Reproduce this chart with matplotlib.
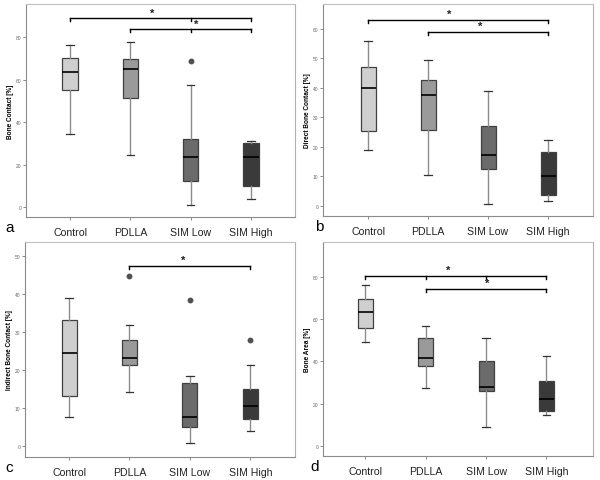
import matplotlib
matplotlib.use('Agg')
import matplotlib.pyplot as plt

plt.rcParams['font.family'] = ['Liberation Sans', 'DejaVu Sans']

groups = ['Control', 'PDLLA', 'SIM Low', 'SIM High']
box_colors = ['#cfcfcf', '#9a9a9a', '#6b6b6b', '#3a3a3a']

# five-number summaries per group: whisker low, Q1, median, Q3, whisker high
a_lo = [34.5, 24.5, 1.0, 4.0]
a_q1 = [55.0, 51.3, 12.5, 9.8]
a_med = [63.7, 65.0, 23.6, 23.5]
a_q3 = [70.1, 70.0, 32.1, 30.4]
a_hi = [76.4, 77.6, 57.4, 31.2]
a_fliers = [[], [], [69.0], []]

b_lo = [18.8, 10.5, 0.5, 1.7]
b_q1 = [25.4, 25.7, 12.6, 3.6]
b_med = [39.9, 37.6, 17.1, 10.0]
b_q3 = [47.2, 42.7, 27.0, 18.3]
b_hi = [55.8, 49.5, 38.9, 22.2]
b_fliers = [[], [], [], []]

c_lo = [7.6, 14.2, 1.0, 4.1]
c_q1 = [13.1, 21.4, 5.0, 7.2]
c_med = [24.6, 23.2, 7.6, 10.5]
c_q3 = [33.2, 27.9, 16.6, 15.1]
c_hi = [39.1, 31.9, 18.6, 21.5]
c_fliers = [[], [44.7], [38.5], [27.9]]

d_lo = [48.9, 27.2, 9.0, 14.5]
d_q1 = [55.9, 37.9, 26.2, 16.6]
d_med = [63.3, 41.5, 28.1, 22.0]
d_q3 = [69.4, 51.1, 40.1, 30.8]
d_hi = [76.2, 56.5, 50.8, 42.6]
d_fliers = [[], [], [], []]

# significance brackets: (start group, end group, y, inner tick groups, star x)
a_sig = [(0, 3, 89.1, [2], 1.36), (1, 3, 83.9, [2], 2.09)]
b_sig = [(0, 3, 63.2, [], 1.35), (1, 3, 59.1, [], 1.87)]
c_sig = [(1, 3, 47.4, [], 1.89)]
d_sig = [(0, 3, 80.3, [1, 2], 1.38), (1, 3, 74.2, [], 2.02)]

W, H = 600, 481


def px_axes(fig, l, r, t, b):
    return fig.add_axes([l / W, 1 - b / H, (r - l) / W, (b - t) / H])


def draw_panel(ax, lo, q1, med, q3, hi, fliers, sig, ylim, xlim, yticks, ylabel, letter, letter_x, tick_len):
    stats = []
    for i in range(len(groups)):
        stats.append(dict(whislo=lo[i], q1=q1[i], med=med[i], q3=q3[i], whishi=hi[i],
                          fliers=fliers[i], label=groups[i]))
    bp = ax.bxp(stats, positions=range(len(groups)), widths=0.25, patch_artist=True,
                showfliers=True,
                boxprops=dict(edgecolor='#404040', linewidth=0.9),
                medianprops=dict(color='black', linewidth=1.2),
                whiskerprops=dict(color='#8c8c8c', linewidth=1.0),
                capprops=dict(color='#333333', linewidth=0.9),
                capwidths=0.12,
                flierprops=dict(marker='o', markersize=3.2, markerfacecolor='#505050',
                                markeredgecolor='#505050'))
    for patch, col in zip(bp['boxes'], box_colors):
        patch.set_facecolor(col)

    for g0, g1, y, inner, sx in sig:
        ax.plot([g0, g1], [y, y], color='black', lw=1.0)
        for g in [g0, g1] + inner:
            ax.plot([g, g], [y, y - tick_len], color='black', lw=1.0)
        ax.text(sx, y + tick_len * 0.2, '*', ha='center', va='bottom', fontsize=8,
                fontweight='bold', color='#222222')

    ax.set_ylim(ylim)
    ax.set_xlim(xlim)
    ax.set_yticks(yticks)
    ax.set_yticklabels([str(v) for v in yticks], fontsize=3.5, color='#666666')
    ax.set_xticks(range(len(groups)))
    ax.set_xticklabels(groups, fontsize=7.6, color='#222222')
    ax.tick_params(axis='y', length=2.5, width=0.6, color='#777777', pad=1)
    ax.tick_params(axis='x', length=2.5, width=0.6, color='#777777', pad=4.5)
    ax.set_ylabel(ylabel, fontsize=4.7, fontweight='bold')
    ax.yaxis.set_label_coords(-0.044, 0.5)
    for s in ax.spines.values():
        s.set_color('#8a8a8a')
        s.set_linewidth(0.8)
    ax.spines['top'].set_color('#c0c0c0')
    ax.spines['right'].set_color('#b0b0b0')
    ax.text(letter_x, -0.047, letter, transform=ax.transAxes, fontsize=11, ha='left', va='center')


fig = plt.figure(figsize=(6.0, 4.81), dpi=100)

ax_a = px_axes(fig, 26, 295, 5, 218)
draw_panel(ax_a, a_lo, a_q1, a_med, a_q3, a_hi, a_fliers, a_sig, (-4.6, 95.7), (-0.73, 3.73),
           [0, 20, 40, 60, 80], 'Bone Contact [%]', 'a', -0.078, 1.5)

ax_b = px_axes(fig, 323, 593, 5, 217)
draw_panel(ax_b, b_lo, b_q1, b_med, b_q3, b_hi, b_fliers, b_sig, (-3.5, 68.5), (-0.75, 3.75),
           [0, 10, 20, 30, 40, 50, 60], 'Direct Bone Contact [%]', 'b', -0.03, 1.1)

ax_c = px_axes(fig, 25, 295, 243, 458)
draw_panel(ax_c, c_lo, c_q1, c_med, c_q3, c_hi, c_fliers, c_sig, (-2.8, 53.7), (-0.73, 3.74),
           [0, 10, 20, 30, 40, 50], 'Indirect Bone Contact [%]', 'c', -0.074, 0.9)

ax_d = px_axes(fig, 323, 593, 243, 457)
draw_panel(ax_d, d_lo, d_q1, d_med, d_q3, d_hi, d_fliers, d_sig, (-4.7, 96.3), (-0.70, 3.77),
           [0, 20, 40, 60, 80], 'Bone Area [%]', 'd', -0.048, 1.6)

fig.savefig('out.png', dpi=100)
